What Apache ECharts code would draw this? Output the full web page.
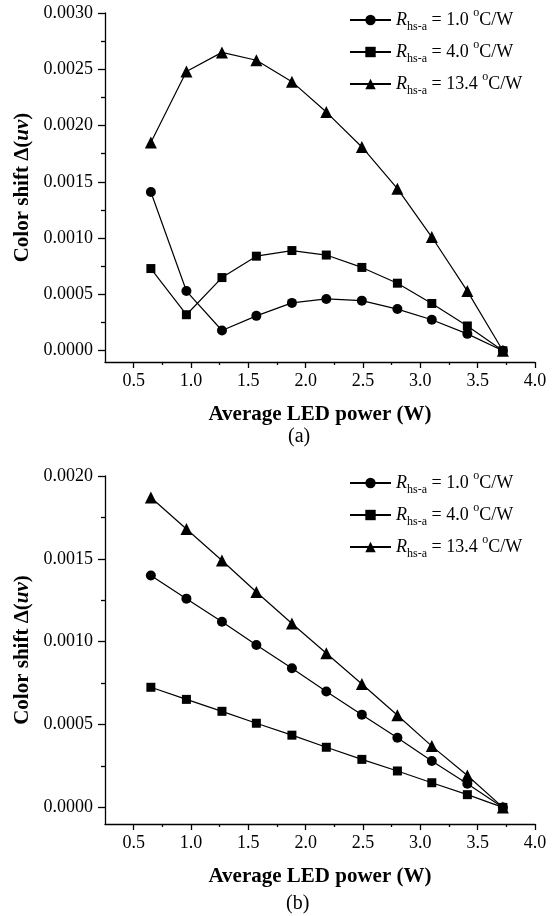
<!DOCTYPE html>
<html><head><meta charset="utf-8">
<script src="https://cdn.jsdelivr.net/npm/echarts@6/dist/echarts.min.js"></script>
<style>html,body{margin:0;padding:0;background:#fff}#a,#b{width:557px;height:458px}</style>
</head><body><div id="a"></div><div id="b"></div>
<script>
// ---- data ----
const xPower = [0.65, 0.96, 1.27, 1.57, 1.88, 2.18, 2.49, 2.80, 3.10, 3.41, 3.72];
const legendValues = ['1.0', '4.0', '13.4'];
const seriesNames = ['R1.0', 'R4.0', 'R13.4'];
const a_R1 = [0.00141, 0.00053, 0.00018, 0.00031, 0.000425, 0.00046, 0.000445, 0.00037, 0.000275, 0.00015, 0.0];
const a_R4 = [0.00073, 0.00032, 0.00065, 0.00084, 0.00089, 0.00085, 0.00074, 0.00060, 0.00042, 0.00022, 0.0];
const a_R13 = [0.00185, 0.00248, 0.00265, 0.00258, 0.00239, 0.00212, 0.00181, 0.00144, 0.00101, 0.00053, 0.0];
const b_R1 = [0.00140, 0.00126, 0.00112, 0.00098, 0.00084, 0.00070, 0.00056, 0.00042, 0.00028, 0.000143, 0.0];
const b_R4 = [0.000725, 0.000652, 0.00058, 0.000508, 0.000436, 0.000363, 0.00029, 0.00022, 0.000149, 0.000077, 0.0];
const b_R13 = [0.00187, 0.00168, 0.00149, 0.00130, 0.00111, 0.00093, 0.000745, 0.000556, 0.00037, 0.000193, 0.0];
const xMajorTicks = [0.5, 1.0, 1.5, 2.0, 2.5, 3.0, 3.5, 4.0];
const xMinorTicks = [0.75, 1.25, 1.75, 2.25, 2.75, 3.25, 3.75];
const aYMajorTicks = [0, 0.0005, 0.001, 0.0015, 0.002, 0.0025, 0.003];
const aYMinorTicks = [0.00025, 0.00075, 0.00125, 0.00175, 0.00225, 0.00275];
const bYMajorTicks = [0, 0.0005, 0.001, 0.0015, 0.002];
const bYMinorTicks = [0.00025, 0.00075, 0.00125, 0.00175];

const FONT = '"Liberation Serif", "DejaVu Serif", serif';
const BLACK = '#000';
const symbols = ['circle', 'rect', 'triangle'];
const symbolSizes = [10, 9, 12];

function makeOption(cfg) {
  const lineStyle = { color: BLACK, width: 1.3 };
  const series = cfg.data.map((vals, k) => ({
    name: seriesNames[k],
    type: 'line',
    data: xPower.map((x, i) => [x, vals[i]]),
    symbol: symbols[k],
    symbolSize: symbolSizes[k],
    showSymbol: true,
    itemStyle: { color: BLACK },
    lineStyle: { color: BLACK, width: 1.2 },
    z: 3 + k
  }));
  return {
    animation: false,
    backgroundColor: '#fff',
    title: {
      text: cfg.panel, left: cfg.panelLeft, top: cfg.panelTop, padding: 0,
      textStyle: { fontFamily: FONT, fontSize: 20, fontWeight: 'normal', color: BLACK }
    },
    legend: {
      orient: 'vertical', left: 349, top: cfg.legendTop, padding: 0,
      itemWidth: 41, itemHeight: 13, itemGap: cfg.legendGap,
      data: seriesNames,
      formatter: function (name) {
        const v = legendValues[seriesNames.indexOf(name)];
        return '{r|R}{s|hs-a}{t| = ' + v + ' }{o|o}{t|C/W}';
      },
      textStyle: {
        color: BLACK, fontFamily: FONT,
        rich: {
          r: { fontFamily: FONT, fontStyle: 'italic', fontSize: 18, lineHeight: 26, color: BLACK },
          s: { fontFamily: FONT, fontSize: 12, lineHeight: 12, verticalAlign: 'bottom', color: BLACK },
          t: { fontFamily: FONT, fontSize: 18, lineHeight: 26, color: BLACK },
          o: { fontFamily: FONT, fontSize: 12, lineHeight: 15, verticalAlign: 'top', color: BLACK }
        }
      }
    },
    grid: { left: 105, right: 22, top: cfg.gridTop, bottom: cfg.gridBottom, containLabel: false },
    xAxis: [
      {
        type: 'value', min: 0.25, max: 4.0, position: 'bottom',
        axisLine: { show: true, onZero: false, lineStyle: lineStyle },
        axisTick: { show: true, customValues: xMajorTicks, length: 6, lineStyle: lineStyle },
        axisLabel: { customValues: xMajorTicks, formatter: v => v.toFixed(1), color: BLACK, fontFamily: FONT, fontSize: 18, margin: 10 },
        splitLine: { show: false },
        name: 'Average LED power (W)', nameLocation: 'middle', nameGap: 42,
        nameTextStyle: { fontFamily: FONT, fontSize: 21, fontWeight: 'bold', color: BLACK }
      },
      {
        type: 'value', min: 0.25, max: 4.0, position: 'bottom',
        axisLine: { show: false, onZero: false },
        axisTick: { show: true, customValues: xMinorTicks, length: 3, lineStyle: lineStyle },
        axisLabel: { show: false },
        splitLine: { show: false }
      }
    ],
    yAxis: [
      {
        type: 'value', min: -0.0001, max: cfg.yMax, position: 'left',
        axisLine: { show: true, onZero: false, lineStyle: lineStyle },
        axisTick: { show: true, customValues: cfg.yMajor, length: 7, lineStyle: lineStyle },
        axisLabel: { customValues: cfg.yMajor, formatter: v => v.toFixed(4), color: BLACK, fontFamily: FONT, fontSize: 18, margin: 12 },
        splitLine: { show: false },
        name: '{b|Color shift Δ(}{bi|uv}{b|)}', nameLocation: 'middle', nameGap: 69, nameRotate: 90,
        nameTextStyle: {
          rich: {
            b: { fontFamily: FONT, fontSize: 21, fontWeight: 'bold', color: BLACK },
            bi: { fontFamily: FONT, fontSize: 21, fontWeight: 'bold', fontStyle: 'italic', color: BLACK }
          }
        }
      },
      {
        type: 'value', min: -0.0001, max: cfg.yMax, position: 'left',
        axisLine: { show: false, onZero: false },
        axisTick: { show: true, customValues: cfg.yMinor, length: 4, lineStyle: lineStyle },
        axisLabel: { show: false },
        splitLine: { show: false }
      }
    ],
    series: series
  };
}

const chartA = echarts.init(document.getElementById('a'), null, { renderer: 'canvas' });
chartA.setOption(makeOption({
  data: [a_R1, a_R4, a_R13], yMax: 0.003, yMajor: aYMajorTicks, yMinor: aYMinorTicks,
  gridTop: 13, gridBottom: 96, panel: '(a)', panelLeft: 288, panelTop: 427,
  legendTop: 7, legendGap: 6
}));
const chartB = echarts.init(document.getElementById('b'), null, { renderer: 'canvas' });
chartB.setOption(makeOption({
  data: [b_R1, b_R4, b_R13], yMax: 0.002, yMajor: bYMajorTicks, yMinor: bYMinorTicks,
  gridTop: 18, gridBottom: 92, panel: '(b)', panelLeft: 286, panelTop: 436,
  legendTop: 12, legendGap: 6
}));
</script></body></html>
